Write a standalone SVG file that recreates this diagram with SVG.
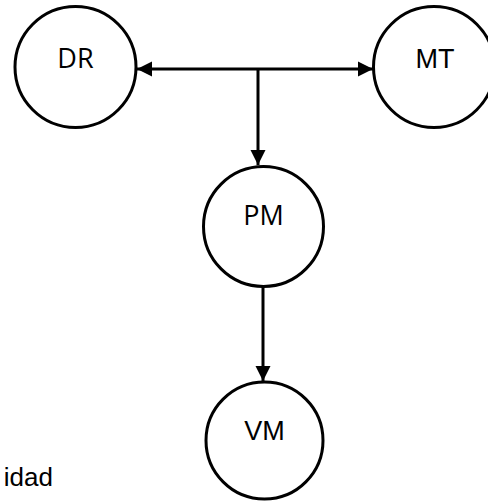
<svg xmlns="http://www.w3.org/2000/svg" width="488" height="501" viewBox="0 0 488 501">
<defs>
<marker id="arr" markerUnits="userSpaceOnUse" markerWidth="16" markerHeight="16" refX="15" refY="8" orient="auto-start-reverse" viewBox="0 0 16 16">
<path d="M0,0.5 L15,8 L0,15.5 z" fill="#000"/>
</marker>
<style>
.node{fill:#fff;stroke:#000;stroke-width:3}
.conn{stroke:#000;stroke-width:3;fill:none}
.h{font-family:"Open Sans","Noto Sans",sans-serif;font-size:27px;text-anchor:middle;fill:#000}
.a{font-family:"Liberation Sans",Arial,sans-serif;font-size:27px;text-anchor:middle;fill:#000}
</style>
</defs>
<rect width="488" height="501" fill="#fff"/>
<text x="53" y="486" font-family="Liberation Sans, Arial, sans-serif" font-size="26" text-anchor="end" fill="#000">idad</text>
<g id="connectors">
<path class="conn" d="M137,69 H373" marker-start="url(#arr)" marker-end="url(#arr)"/>
<path class="conn" d="M258,69 V165" marker-end="url(#arr)"/>
<path class="conn" d="M263,287 V381" marker-end="url(#arr)"/>
</g>
<g id="DR"><circle class="node" cx="75.5" cy="67" r="60.5"/><text class="h" x="75.5" y="68">DR</text></g>
<g id="MT"><circle class="node" cx="434" cy="67" r="60.5"/><text class="a" x="435" y="68">MT</text></g>
<g id="PM"><circle class="node" cx="263.5" cy="226.5" r="60"/><text class="h" x="263.5" y="225">PM</text></g>
<g id="VM"><circle class="node" cx="264.5" cy="440.5" r="58.5"/><text class="a" x="264.5" y="440">VM</text></g>
</svg>
